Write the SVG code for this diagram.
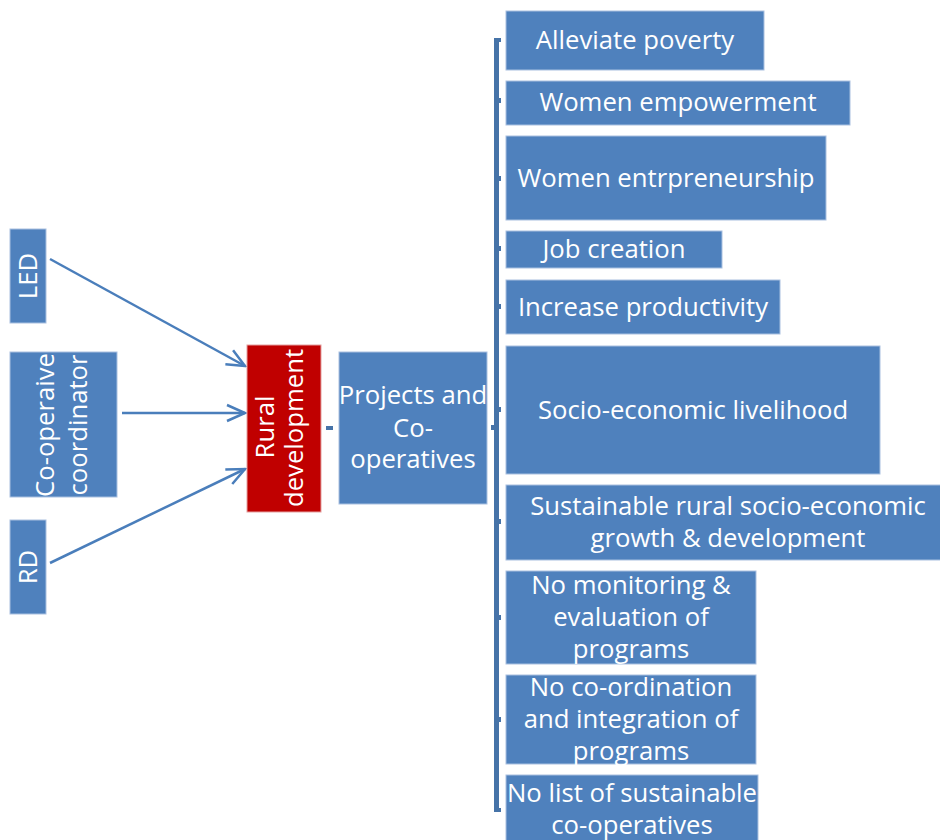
<svg xmlns="http://www.w3.org/2000/svg" width="940" height="840" viewBox="0 0 940 840">
<style>
.b{fill:#4f81bd;stroke:#a9c0e0;stroke-width:1}
.r{fill:#c00000;stroke:#e4a0a0;stroke-width:1}
.t{font-family:"Open Sans","Noto Sans",sans-serif;font-size:25.7px;fill:#ffffff;text-anchor:middle}
.a{fill:none;stroke:#4a7ebb;stroke-width:2.5}
.k{fill:#4673a8}
</style>
<defs>
<marker id="ar" viewBox="0 0 22 22" refX="20" refY="11" markerWidth="22" markerHeight="22" markerUnits="userSpaceOnUse" orient="auto">
<path d="M2,3 L20,11 L2,19" fill="none" stroke="#4a7ebb" stroke-width="2.5"/>
</marker>
</defs>
<rect width="940" height="840" fill="#ffffff"/>

<g id="connectors">
<line class="a" x1="50" y1="259" x2="245" y2="366" marker-end="url(#ar)"/>
<line class="a" x1="122" y1="413" x2="245" y2="413" marker-end="url(#ar)"/>
<line class="a" x1="50" y1="563" x2="245" y2="469" marker-end="url(#ar)"/>
<rect class="k" x="326" y="426" width="7" height="4"/>
<g id="bracket" class="k">
<rect x="494" y="38" width="5" height="774"/>
<rect x="494" y="38" width="7" height="4"/>
<rect x="494" y="808" width="7" height="4"/>
<rect x="491" y="425" width="4" height="5"/>
<rect x="498" y="98" width="3" height="5"/>
<rect x="498" y="176" width="3" height="5"/>
<rect x="498" y="246" width="3" height="5"/>
<rect x="498" y="304" width="3" height="5"/>
<rect x="498" y="407" width="3" height="5"/>
<rect x="498" y="519" width="3" height="5"/>
<rect x="498" y="615" width="3" height="5"/>
<rect x="498" y="717" width="3" height="5"/>
</g>
</g>

<g id="led">
<rect class="b" x="10" y="229" width="36" height="94"/>
<text class="t" transform="translate(37,276) rotate(-90)">LED</text>
</g>
<g id="coop">
<rect class="b" x="10" y="352" width="107" height="145"/>
<text class="t" transform="translate(54,425) rotate(-90)">Co-operaive</text>
<text class="t" transform="translate(87,425) rotate(-90)">coordinator</text>
</g>
<g id="rd">
<rect class="b" x="10" y="520" width="36" height="94"/>
<text class="t" transform="translate(37,567) rotate(-90)">RD</text>
</g>
<g id="rural">
<rect class="r" x="247" y="345" width="74" height="167"/>
<text class="t" transform="translate(274,427) rotate(-90)">Rural</text>
<text class="t" transform="translate(303,428) rotate(-90)">development</text>
</g>
<g id="projects">
<rect class="b" x="339" y="352" width="148" height="152"/>
<text class="t" x="413" y="404">Projects and</text>
<text class="t" x="413" y="437">Co-</text>
<text class="t" x="413" y="468">operatives</text>
</g>

<g id="n1"><rect class="b" x="506" y="11" width="258" height="59"/><text class="t" x="635" y="49">Alleviate poverty</text></g>
<g id="n2"><rect class="b" x="506" y="81" width="344" height="44"/><text class="t" x="678" y="111">Women empowerment</text></g>
<g id="n3"><rect class="b" x="506" y="136" width="320" height="84"/><text class="t" x="666" y="187">Women entrpreneurship</text></g>
<g id="n4"><rect class="b" x="506" y="231" width="216" height="37"/><text class="t" x="614" y="258">Job creation</text></g>
<g id="n5"><rect class="b" x="506" y="280" width="274" height="54"/><text class="t" x="643" y="316">Increase productivity</text></g>
<g id="n6"><rect class="b" x="506" y="346" width="374" height="128"/><text class="t" x="693" y="419">Socio-economic livelihood</text></g>
<g id="n7"><rect class="b" x="506" y="485" width="444" height="75"/><text class="t" x="728" y="515">Sustainable rural socio-economic</text><text class="t" x="728" y="547">growth &amp; development</text></g>
<g id="n8"><rect class="b" x="506" y="571" width="250" height="93"/><text class="t" x="631" y="594">No monitoring &amp;</text><text class="t" x="631" y="626">evaluation of</text><text class="t" x="631" y="658">programs</text></g>
<g id="n9"><rect class="b" x="506" y="675" width="250" height="89"/><text class="t" x="631" y="696">No co-ordination</text><text class="t" x="631" y="728">and integration of</text><text class="t" x="631" y="760">programs</text></g>
<g id="n10"><rect class="b" x="506" y="775" width="252" height="70"/><text class="t" x="632" y="802">No list of sustainable</text><text class="t" x="632" y="834">co-operatives</text></g>
</svg>
